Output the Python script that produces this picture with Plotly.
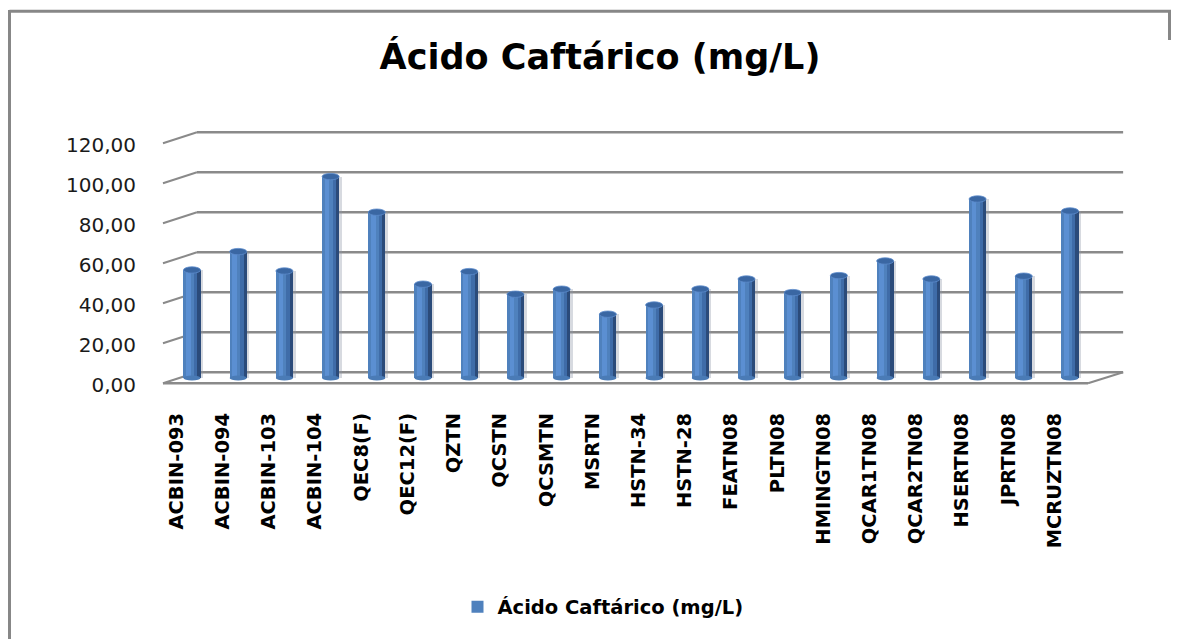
import plotly.graph_objects as go

# ---- data -------------------------------------------------------------
categories = ["ACBIN-093", "ACBIN-094", "ACBIN-103", "ACBIN-104", "QEC8(F)",
              "QEC12(F)", "QZTN", "QCSTN", "QCSMTN", "MSRTN", "HSTN-34",
              "HSTN-28", "FEATN08", "PLTN08", "HMINGTN08", "QCAR1TN08",
              "QCAR2TN08", "HSERTN08", "JPRTN08", "MCRUZTN08"]
values = [54.0, 63.2, 53.5, 100.7, 82.9, 46.9, 53.2, 41.9, 44.4, 31.9,
          36.5, 44.5, 49.5, 42.7, 51.2, 58.5, 49.5, 89.5, 50.9, 83.5]
y_ticks = [0, 20, 40, 60, 80, 100, 120]
series_name = "Ácido Caftárico (mg/L)"

# ---- geometry of the pseudo-3D box (category / value units) ------------
W, H = 1178, 639
L_PX, R_PX, T_PX, B_PX = 140, 1140, 120, 400        # plot area in pixels
X_RANGE = [-1.125, 20.515]
Y_RANGE = [-11.0, 129.0]
BACK_RISE = 2.85      # back wall sits this much above the bar plane
FRONT_DROP = 2.65     # front edge sits this much below the bar plane
LABEL_DROP = 3.7      # value labels follow the front edge
XB_L, XB_R = 0.108, 20.15     # back wall left / right
XF_L, XF_R = -0.628, 19.39    # front edge left / right
LABEL_SHIFT = 0.335           # category labels sit on the front edge

FONT = "DejaVu Sans"
GRID = "#8a8a8a"

idx = list(range(len(categories)))

fig = go.Figure()

# cylinder drawn as overlaid vertical strips
strips = [
    # (offset, width, colour, legend)
    (0.165, 0.075, "rgba(140,150,165,0.35)", False),   # soft shadow
    (-0.185, 0.37, "#4f81bd", True),                    # body
    (-0.125, 0.10, "#5b8fd2", False),                   # highlight
    (0.045, 0.08, "#3f6ca8", False),                    # turning edge
    (0.115, 0.07, "#2b4b7a", False),                    # dark side
]
for off, wid, col, leg in strips:
    fig.add_trace(go.Bar(
        x=idx, y=values, offset=off, width=wid,
        marker=dict(color=col, line=dict(width=0)),
        name=series_name, showlegend=leg, hoverinfo="skip" if not leg else None,
    ))

shapes = []
# back wall grid lines and their slanted side-wall continuations
for v in y_ticks:
    shapes.append(dict(type="line", xref="x", yref="y", layer="below",
                       x0=XB_L, x1=XB_R, y0=v + BACK_RISE, y1=v + BACK_RISE,
                       line=dict(color=GRID, width=2.5)))
    shapes.append(dict(type="line", xref="x", yref="y", layer="below",
                       x0=XF_L, x1=XB_L, y0=v - FRONT_DROP, y1=v + BACK_RISE,
                       line=dict(color=GRID, width=2)))
# floor front edge and right side
shapes.append(dict(type="line", xref="x", yref="y", layer="below",
                   x0=XF_L, x1=XF_R, y0=-FRONT_DROP, y1=-FRONT_DROP,
                   line=dict(color=GRID, width=2.5)))
shapes.append(dict(type="line", xref="x", yref="y", layer="below",
                   x0=XF_R, x1=XB_R, y0=-FRONT_DROP, y1=BACK_RISE,
                   line=dict(color=GRID, width=2)))

# cylinder ends
for i, v in zip(idx, values):
    shapes.append(dict(type="circle", xref="x", yref="y", layer="above",
                       x0=i - 0.185, x1=i + 0.185, y0=-1.2, y1=1.2,
                       fillcolor="#4a7bb6", line=dict(width=0)))
    shapes.append(dict(type="circle", xref="x", yref="y", layer="above",
                       x0=i - 0.185, x1=i + 0.185, y0=v - 1.6, y1=v + 1.6,
                       fillcolor="#3a67a3", line=dict(color="#5d8ccc", width=0.8)))


def px_x(p):
    return (p - L_PX) / (R_PX - L_PX)


def px_y(p):
    return (B_PX - p) / (B_PX - T_PX)


# chart frame
frame = dict(color="#878787", width=3)
shapes.append(dict(type="line", xref="paper", yref="paper",
                   x0=px_x(9.5), x1=px_x(1171), y0=px_y(11.3), y1=px_y(11.3), line=frame))
shapes.append(dict(type="line", xref="paper", yref="paper",
                   x0=px_x(9.5), x1=px_x(9.5), y0=px_y(10), y1=px_y(640), line=frame))
shapes.append(dict(type="line", xref="paper", yref="paper",
                   x0=px_x(1169.5), x1=px_x(1169.5), y0=px_y(10), y1=px_y(40), line=frame))

# value labels sit on the front edge of the side wall
y_tickvals = [v - LABEL_DROP for v in y_ticks]
y_ticktext = [f"{v:.2f}".replace(".", ",") for v in y_ticks]

fig.update_layout(
    width=W, height=H,
    margin=dict(l=L_PX, r=W - R_PX, t=T_PX, b=H - B_PX),
    paper_bgcolor="white", plot_bgcolor="white",
    barmode="overlay", bargap=0,
    font=dict(family=FONT, color="#000000"),
    shapes=shapes,
    title=dict(text=series_name, xref="container", yref="container",
               x=600 / W, y=1 - 57 / H, xanchor="center", yanchor="middle",
               font=dict(family=FONT, size=35, weight="bold", color="#000000")),
    xaxis=dict(range=X_RANGE, showgrid=False, zeroline=False, showline=False,
               tickmode="array", tickvals=[i - LABEL_SHIFT for i in idx],
               ticktext=categories, tickangle=-90, ticks="",
               ticklabelstandoff=8,
               tickfont=dict(family=FONT, size=19.5, weight="bold", color="#000000")),
    yaxis=dict(range=Y_RANGE, showgrid=False, zeroline=False, showline=False,
               ticks="", tickmode="array", tickvals=y_tickvals, ticktext=y_ticktext,
               ticklabelstandoff=3,
               tickfont=dict(family=FONT, size=20, color="#1a1a1a")),
    legend=dict(orientation="h", x=px_x(603), y=px_y(607),
                xanchor="center", yanchor="middle",
                font=dict(family=FONT, size=19.5, weight="bold", color="#000000")),
    showlegend=True,
)

fig.write_html("out.html")
